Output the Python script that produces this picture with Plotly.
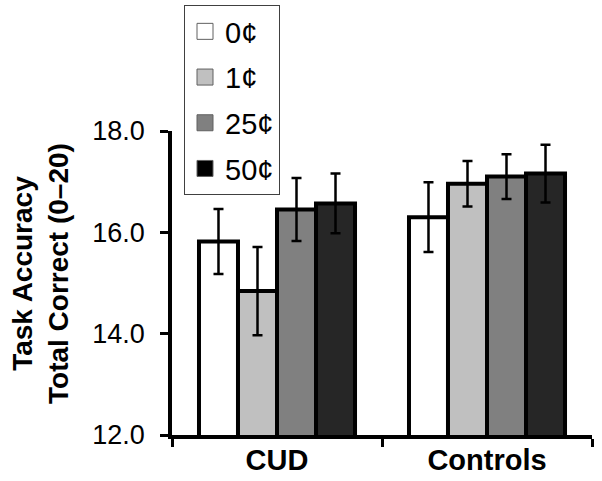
import plotly.graph_objects as go

groups = ["CUD", "Controls"]
conditions = ["0¢", "1¢", "25¢", "50¢"]
values = {
    "0¢": [15.82, 16.30],
    "1¢": [14.84, 16.96],
    "25¢": [16.45, 17.10],
    "50¢": [16.57, 17.16],
}
errors = {
    "0¢": [0.64, 0.69],
    "1¢": [0.87, 0.45],
    "25¢": [0.62, 0.44],
    "50¢": [0.59, 0.57],
}
colors = {"0¢": "#ffffff", "1¢": "#c0c0c0", "25¢": "#808080", "50¢": "#262626"}
legend_colors = {"0¢": "#ffffff", "1¢": "#c0c0c0", "25¢": "#808080", "50¢": "#000000"}
ytick_vals = [12, 14, 16, 18]
ytick_text = ["12.0", "14.0", "16.0", "18.0"]

FONT = "Liberation Sans, Arial, sans-serif"

fig = go.Figure()
for c in conditions:
    fig.add_trace(go.Bar(
        x=groups, y=values[c], name=c, showlegend=False,
        marker=dict(color=colors[c], line=dict(color="black", width=4)),
        error_y=dict(type="data", array=errors[c], color="black", thickness=2.5, width=5),
    ))
# legend keys (no data points)
for c in conditions:
    fig.add_trace(go.Scatter(
        x=[None], y=[None], name=c, mode="markers", legendgroup=c,
        marker=dict(symbol="square", size=16, color=legend_colors[c],
                    line=dict(color="#606060", width=1)),
    ))

fig.update_layout(
    width=602, height=481,
    template="none",
    paper_bgcolor="white", plot_bgcolor="white",
    margin=dict(l=172, r=10, t=131, b=46, autoexpand=False),
    barmode="group", bargap=0.257, bargroupgap=0,
    font=dict(family=FONT, color="black", size=26),
    legend=dict(
        x=(184 - 172) / 420, y=(435 - 5) / 304, xanchor="left", yanchor="top",
        bordercolor="#404040", borderwidth=1, bgcolor="white",
        font=dict(size=29, family=FONT), tracegroupgap=5, traceorder="grouped",
        itemwidth=30,
    ),
    xaxis=dict(
        showline=True, linecolor="black", linewidth=3.5, ticks="outside", ticklen=8, tickwidth=3,
        tickcolor="black", tickson="boundaries", showgrid=False, zeroline=False,
        tickfont=dict(size=29, family=FONT), automargin=False, ticklabelstandoff=-4,
    ),
    yaxis=dict(
        range=[12, 18], tickvals=ytick_vals, ticktext=ytick_text,
        showline=True, linecolor="black", linewidth=3.5, ticks="outside", ticklen=8, tickwidth=3,
        tickcolor="black", showgrid=False, zeroline=False,
        tickfont=dict(size=27, family=FONT), automargin=False, ticklabelstandoff=10,
    ),
    annotations=[dict(
        text="<b>Task Accuracy<br>Total Correct (0–20)</b>", textangle=-90,
        xref="paper", yref="paper", x=(40 - 172) / 420, y=(435 - 274) / 304,
        xanchor="center", yanchor="middle", showarrow=False,
        font=dict(size=28, family=FONT, color="black"),
    )],
)
fig.update_xaxes(tickprefix="<b>", ticksuffix="</b>")
fig.write_html("out.html", config={"displayModeBar": False},
               post_script="document.body.style.margin='0';")
